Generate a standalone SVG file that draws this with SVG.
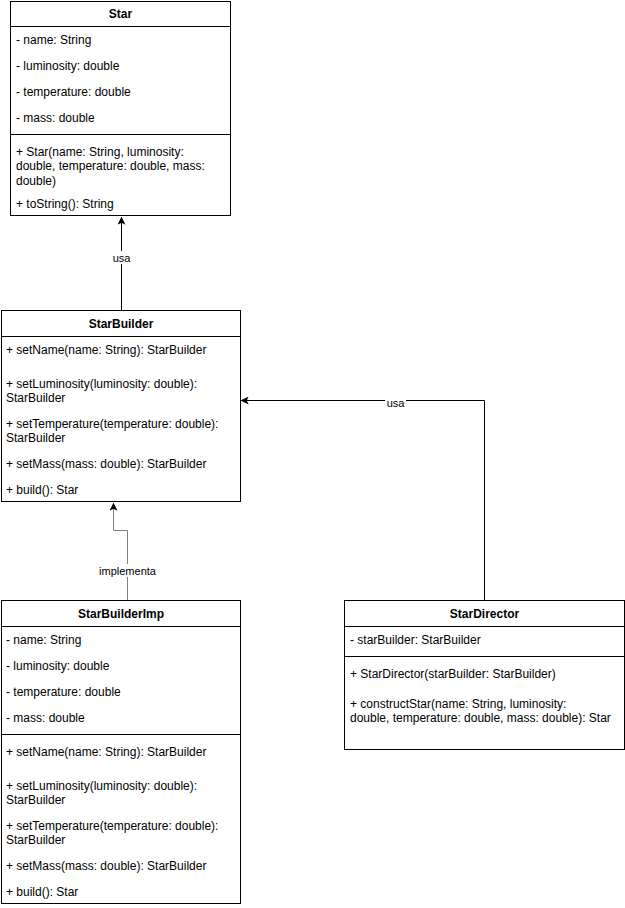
<svg xmlns="http://www.w3.org/2000/svg" width="625" height="908" viewBox="0 0 625 908">
<style>
.box{fill:#ffffff;stroke:#000000;stroke-width:1}
.sep{stroke:#000000;stroke-width:1}
.t{font-family:"Liberation Sans",Arial,sans-serif;font-size:12px;fill:#000000}
.h{font-family:"Liberation Sans",Arial,sans-serif;font-size:12px;font-weight:bold;fill:#000000;text-anchor:middle}
.lbl{font-family:"Liberation Sans",Arial,sans-serif;font-size:11px;fill:#000000;text-anchor:middle}
.c{fill:none;stroke:#000000;stroke-width:1}
.cg{fill:none;stroke:#808080;stroke-width:1}
</style>
<defs>
<marker id="arr" viewBox="0 0 10 10" refX="9" refY="5" markerWidth="8" markerHeight="8" markerUnits="userSpaceOnUse" orient="auto">
<path d="M0,0 L10,5 L0,10 L2.5,5 Z" fill="#000000"/>
</marker>
</defs>
<rect width="625" height="908" fill="#ffffff"/>

<g id="connectors">
<g id="e1">
<path class="c" d="M121.5,310.5 L121.5,217.5" marker-end="url(#arr)"/>
<rect x="111" y="251" width="21" height="13" fill="#ffffff"/>
<text class="lbl" x="121.5" y="261.5">usa</text>
</g>
<g id="e2">
<path class="cg" d="M127.5,600.5 L127.5,530.5 L113.5,530.5 L113.5,503.5" marker-end="url(#arr)"/>
<rect x="98" y="564" width="59" height="13" fill="#ffffff"/>
<text class="lbl" x="127.5" y="574.5">implementa</text>
</g>
<g id="e3">
<path class="c" d="M484.5,600.5 L484.5,400.5 L241.5,400.5" marker-end="url(#arr)"/>
<rect x="385" y="398" width="21" height="11" fill="#ffffff"/>
<text class="lbl" x="395.5" y="407">usa</text>
</g>
</g>

<g id="Star">
<rect class="box" x="10.5" y="1.5" width="220" height="214"/>
<line class="sep" x1="10.5" y1="26.5" x2="230.5" y2="26.5"/>
<text class="h" x="120.5" y="18">Star</text>
<text class="t" x="16" y="44">- name: String</text>
<text class="t" x="16" y="70">- luminosity: double</text>
<text class="t" x="16" y="96">- temperature: double</text>
<text class="t" x="16" y="122">- mass: double</text>
<line class="sep" x1="10.5" y1="134.5" x2="230.5" y2="134.5"/>
<text class="t" x="16" y="156">+ Star(name: String, luminosity:</text>
<text class="t" x="16" y="170">double, temperature: double, mass:</text>
<text class="t" x="16" y="185">double)</text>
<text class="t" x="16" y="208">+ toString(): String</text>
</g>

<g id="StarBuilder">
<rect class="box" x="1.5" y="310.5" width="239" height="191"/>
<line class="sep" x1="1.5" y1="336.5" x2="240.5" y2="336.5"/>
<text class="h" x="121" y="328">StarBuilder</text>
<text class="t" x="6" y="354">+ setName(name: String): StarBuilder</text>
<text class="t" x="6" y="388">+ setLuminosity(luminosity: double):</text>
<text class="t" x="6" y="402">StarBuilder</text>
<text class="t" x="6" y="428">+ setTemperature(temperature: double):</text>
<text class="t" x="6" y="442">StarBuilder</text>
<text class="t" x="6" y="468">+ setMass(mass: double): StarBuilder</text>
<text class="t" x="6" y="494">+ build(): Star</text>
</g>

<g id="StarBuilderImp">
<rect class="box" x="1.5" y="600.5" width="239" height="303"/>
<line class="sep" x1="1.5" y1="626.5" x2="240.5" y2="626.5"/>
<text class="h" x="121" y="618">StarBuilderImp</text>
<text class="t" x="6" y="644">- name: String</text>
<text class="t" x="6" y="670">- luminosity: double</text>
<text class="t" x="6" y="696">- temperature: double</text>
<text class="t" x="6" y="722">- mass: double</text>
<line class="sep" x1="1.5" y1="734.5" x2="240.5" y2="734.5"/>
<text class="t" x="6" y="756">+ setName(name: String): StarBuilder</text>
<text class="t" x="6" y="790">+ setLuminosity(luminosity: double):</text>
<text class="t" x="6" y="804">StarBuilder</text>
<text class="t" x="6" y="830">+ setTemperature(temperature: double):</text>
<text class="t" x="6" y="844">StarBuilder</text>
<text class="t" x="6" y="870">+ setMass(mass: double): StarBuilder</text>
<text class="t" x="6" y="896">+ build(): Star</text>
</g>

<g id="StarDirector">
<rect class="box" x="344.5" y="600.5" width="280" height="149"/>
<line class="sep" x1="344.5" y1="626.5" x2="624.5" y2="626.5"/>
<text class="h" x="484.5" y="618">StarDirector</text>
<text class="t" x="350" y="644">- starBuilder: StarBuilder</text>
<line class="sep" x1="344.5" y1="656.5" x2="624.5" y2="656.5"/>
<text class="t" x="350" y="678">+ StarDirector(starBuilder: StarBuilder)</text>
<text class="t" x="350" y="708">+ constructStar(name: String, luminosity:</text>
<text class="t" x="350" y="722">double, temperature: double, mass: double): Star</text>
</g>
</svg>
